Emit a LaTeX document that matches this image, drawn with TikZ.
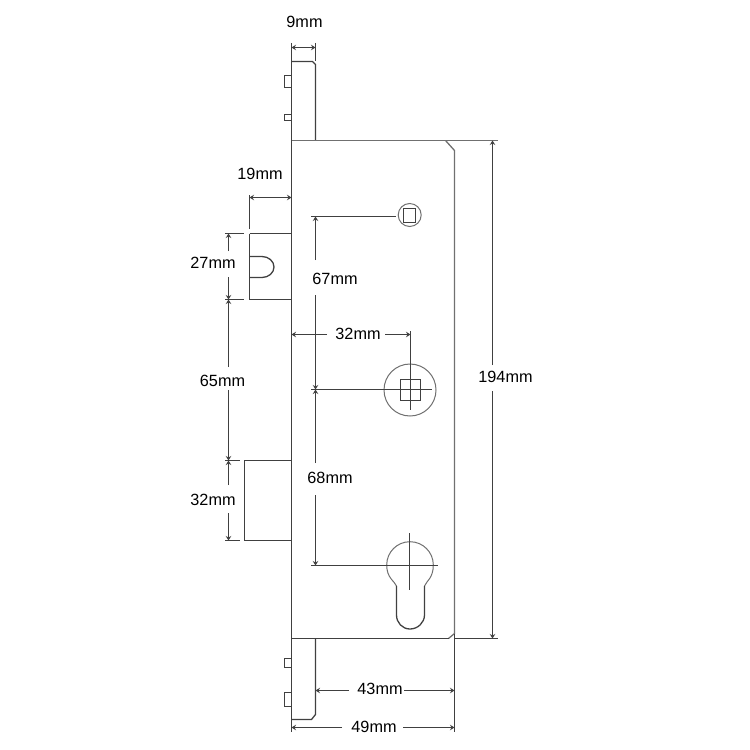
\documentclass[tikz,border=0pt]{standalone}
\usepackage{fontspec}
\setmainfont{Liberation Sans}
\usetikzlibrary{arrows.meta}
\definecolor{ink}{HTML}{404040}
\definecolor{soft}{HTML}{707070}
\tikzset{
  x=1bp,y=-1bp,
  part/.style={draw=ink,line width=1.3bp},
  thin part/.style={draw=soft,line width=1.3bp},
  round part/.style={draw=soft,line width=1bp},
  ext/.style={draw=ink,line width=1.3bp},
  dimline/.style={draw=ink,line width=1.3bp},
  headA/.style={-{Stealth[length=4.5pt,width=5.5pt]}},
  headB/.style={{Stealth[length=4.5pt,width=5.5pt]}-{Stealth[length=4.5pt,width=5.5pt]}},
  lab/.style={text=black,font=\fontsize{16.3}{16}\selectfont,inner sep=0pt},
}
\begin{document}
\begin{tikzpicture}
\useasboundingbox (0,0) rectangle (750,750);
% reference points
\coordinate (LT) at (291.5,61.5);
\coordinate (LB) at (291.5,731.5);
\coordinate (SR) at (315.5,140.5);
% plate outline
\draw[part] (LT) -- (LB);
\draw[part] (LT) -- (312.5,61.5) -- (315.5,64.5) -- (SR);
\draw[part] (284.5,75.5) rectangle (291.5,87.5);
\draw[part] (284.5,114.5) rectangle (291.5,120.5);
\draw[thin part] (291.5,140.5) -- (497.5,140.5);
\draw[thin part] (445.5,140.5) -- (454.5,150.5) -- (454.5,633.5) -- (448.5,638.5);
\draw[part] (291.5,638.5) -- (448.5,638.5);
\draw[part] (454.5,638.5) -- (497.5,638.5);
\draw[part] (454.5,633.5) -- (454.5,731.5);
\draw[part] (315.5,638.5) -- (315.5,714.5) -- (311.5,719.5) -- (291.5,719.5);
\draw[part] (284.5,658.5) rectangle (291.5,667.5);
\draw[part] (284.5,692.5) rectangle (291.5,706.5);
% latch
\draw[part] (249.5,233.5) -- (291.5,233.5);
\draw[part] (249.5,299.5) -- (291.5,299.5);
\draw[part] (249.5,233.5) -- (249.5,299.5);
\draw[part] (249.5,256.5) -- (262,256.5) .. controls (268.6,256.5) and (274,261.2) .. (274,267)
  .. controls (274,272.8) and (268.6,277.5) .. (262,277.5) -- (249.5,277.5);
% bolt
\draw[part] (291.5,460.5) -- (244.5,460.5) -- (244.5,540.5) -- (291.5,540.5);
% spindle top
\draw[round part] (409.7,215) circle[radius=11.5];
\draw[part] (403.5,208.5) rectangle (415.5,222.5);
% follower
\draw[round part] (410,390) circle[radius=26];
\draw[part] (400.5,379.5) rectangle (420.5,400.5);
\draw[part] (410.5,331) -- (410.5,410);
% cylinder
\draw[round part] (396.5,586) .. controls (394.5,581) and (386.7,578) .. (386.7,565)
  .. controls (386.7,552.1) and (397.1,541.7) .. (410,541.7)
  .. controls (422.9,541.7) and (433.3,552.1) .. (433.3,565)
  .. controls (433.3,578) and (426.5,581) .. (424.5,586);
\draw[part] (396.5,586) -- (396.5,615) .. controls (396.5,622.7) and (402.3,629) .. (410,629)
  .. controls (417.7,629) and (424.5,622.7) .. (424.5,615) -- (424.5,586);
\draw[part] (409.5,533) -- (409.5,590);
% centre lines
\draw[part] (311,216.5) -- (396,216.5);
\draw[part] (311,389.5) -- (432,389.5);
\draw[part] (311,565.5) -- (437.5,565.5);
% extensions
\draw[ext] (249.5,195) -- (249.5,229);
\draw[ext] (225,233.5) -- (244,233.5);
\draw[ext] (225,299.5) -- (244,299.5);
\draw[ext] (225,460.5) -- (240,460.5);
\draw[ext] (225,540.5) -- (240,540.5);
\draw[ext] (291.5,43) -- (291.5,61.5);
\draw[ext] (315.5,43) -- (315.5,61.5);
% dimension 9mm
\draw[dimline,headB] (291.5,47.5) -- (315.5,47.5);
\node[lab] (d9) at (304.5,21.5) {9mm};
% dimension 19mm
\draw[dimline,headB] (249.5,197.5) -- (291.5,197.5);
\node[lab] (d19) at (260,174) {19mm};
% dimension 27mm
\draw[dimline,headA] (228.5,251) -- (228.5,233.5);
\draw[dimline,headA] (228.5,277) -- (228.5,299.5);
\node[lab] (d27) at (213,263) {27mm};
% dimension 65mm
\draw[dimline,headA] (228.5,367) -- (228.5,299.5);
\draw[dimline,headA] (228.5,390) -- (228.5,460.5);
\node[lab] (d65) at (222.5,381) {65mm};
% dimension 32mm left
\draw[dimline,headA] (228.5,485) -- (228.5,460.5);
\draw[dimline,headA] (228.5,513) -- (228.5,540.5);
\node[lab] (d32a) at (213,500) {32mm};
% dimension 67mm
\draw[dimline,headA] (315.5,260) -- (315.5,216.5);
\draw[dimline,headA] (315.5,295) -- (315.5,389.5);
\node[lab] (d67) at (335,279) {67mm};
% dimension 68mm
\draw[dimline,headA] (315.5,463) -- (315.5,389.5);
\draw[dimline,headA] (315.5,495) -- (315.5,565.5);
\node[lab] (d68) at (330,478) {68mm};
% dimension 32mm horizontal
\draw[dimline,headA] (327,334.5) -- (291.5,334.5);
\draw[dimline,headA] (385,334.5) -- (410.5,334.5);
\node[lab] (d32b) at (358,334) {32mm};
% dimension 43mm
\draw[dimline,headA] (349,690.5) -- (315.5,690.5);
\draw[dimline,headA] (404,690.5) -- (454.5,690.5);
\node[lab] (d43) at (380,689) {43mm};
% dimension 49mm
\draw[dimline,headA] (342,727.5) -- (291.5,727.5);
\draw[dimline,headA] (403,727.5) -- (454.5,727.5);
\node[lab] (d49) at (374,727) {49mm};
% dimension 194mm
\draw[dimline,headA] (492.5,365) -- (492.5,140.5);
\draw[dimline,headA] (492.5,391) -- (492.5,638.5);
\node[lab] (d194) at (505.5,377) {194mm};
\end{tikzpicture}
\end{document}
